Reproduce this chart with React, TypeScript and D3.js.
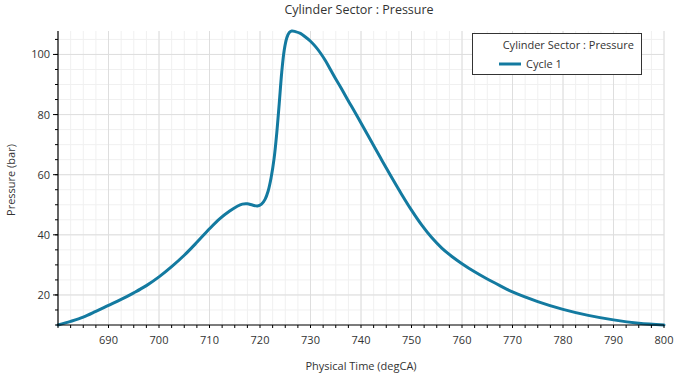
import React from "react";
import * as d3 from "d3";

const angles = [680, 682.5, 685, 687.5, 690, 692.5, 695, 697.5, 700, 702.5, 705, 707.5, 710, 712, 714, 715.5, 716.5, 717.5, 718.5, 719.5, 720.3, 721, 721.6, 722.2, 722.8, 723.3, 723.8, 724.3, 724.8, 725.3, 725.8, 726.3, 727, 728, 729, 730, 731, 732, 733, 734, 735, 736, 737, 738, 739, 740, 742, 744, 746, 748, 750, 752, 754, 756, 758, 760, 762.5, 765, 767.5, 770, 775, 780, 785, 790, 795, 800];
const pressure = [10, 11.2, 12.6, 14.5, 16.5, 18.5, 20.7, 23.1, 26, 29.4, 33.2, 37.5, 42, 45.3, 47.9, 49.5, 50.2, 50.3, 49.9, 49.6, 50.2, 51.8, 54.5, 59, 65.5, 73.5, 83.5, 94, 101.5, 105.5, 107.3, 107.8, 107.6, 107, 105.8, 104.4, 102.6, 100.4, 97.8, 94.8, 91.8, 89, 86, 83.1, 80.2, 77.2, 71.2, 65.2, 59.3, 53.6, 48.2, 43.3, 39.1, 35.6, 32.8, 30.4, 27.7, 25.3, 23.1, 21, 17.8, 15.2, 13.2, 11.7, 10.6, 10];
const xTicks = [690, 700, 710, 720, 730, 740, 750, 760, 770, 780, 790, 800];
const yTicks = [20, 40, 60, 80, 100];

const title = "Cylinder Sector : Pressure";
const seriesName = "Cycle 1";
const xLabel = "Physical Time (degCA)";
const yLabel = "Pressure (bar)";

export default function App() {
  const W = 678, H = 376;
  const left = 58, right = 664, top = 31, bottom = 325;
  const x = d3.scaleLinear().domain([680, 800]).range([left, right]);
  const y = d3.scaleLinear().domain([10, 107.8]).range([bottom, top]);
  const data = angles.map((a, i) => [a, pressure[i]] as [number, number]);
  const line = d3.line<[number, number]>().x(d => x(d[0])).y(d => y(d[1])).curve(d3.curveCatmullRom.alpha(0.5));
  const xMinor = d3.range(680, 800.01, 2.5);
  const yMinor = d3.range(10, 107.8, 5);
  const font = "'Open Sans', 'Noto Sans', sans-serif";
  const color = "#137aa0";
  return (
    <svg width={W} height={H} style={{ position: "absolute", left: 0, top: 0, background: "#fff" }} fontFamily={font}>
      <rect width={W} height={H} fill="#fff" />
      {xMinor.map(v => (
        <line key={"xm" + v} x1={x(v)} x2={x(v)} y1={top} y2={bottom} stroke="#f0f0f0" strokeWidth={1} />
      ))}
      {yMinor.map(v => (
        <line key={"ym" + v} x1={left} x2={right} y1={y(v)} y2={y(v)} stroke="#f0f0f0" strokeWidth={1} />
      ))}
      {xTicks.map(v => (
        <line key={"xg" + v} x1={x(v)} x2={x(v)} y1={top} y2={bottom} stroke="#dedede" strokeWidth={1} />
      ))}
      {yTicks.map(v => (
        <line key={"yg" + v} x1={left} x2={right} y1={y(v)} y2={y(v)} stroke="#dedede" strokeWidth={1} />
      ))}
      <path d={line(data) || ""} fill="none" stroke={color} strokeWidth={3} strokeLinejoin="round" strokeLinecap="round" />
      {/* axes */}
      <line x1={left} x2={left} y1={top} y2={bottom} stroke="#000" strokeWidth={1.2} />
      <line x1={left} x2={right} y1={bottom} y2={bottom} stroke="#000" strokeWidth={1.2} />
      {xMinor.map(v => (
        <line key={"xt" + v} x1={x(v)} x2={x(v)} y1={bottom} y2={bottom + 3} stroke="#000" />
      ))}
      {yMinor.map(v => (
        <line key={"yt" + v} x1={left - 3} x2={left} y1={y(v)} y2={y(v)} stroke="#000" />
      ))}
      {yTicks.map(v => (
        <line key={"ytm" + v} x1={left - 5} x2={left} y1={y(v)} y2={y(v)} stroke="#000" />
      ))}
      {xTicks.map(v => (
        <text key={"xl" + v} x={x(v)} y={bottom + 19} textAnchor="middle" fontSize={11} fill="#333">{v}</text>
      ))}
      {yTicks.map(v => (
        <text key={"yl" + v} x={left - 8} y={y(v) + 4} textAnchor="end" fontSize={11} fill="#333">{v}</text>
      ))}
      <text x={359} y={14} textAnchor="middle" fontSize={12.5} fill="#333">{title}</text>
      <text x={361} y={370} textAnchor="middle" fontSize={11} fill="#333">{xLabel}</text>
      <text transform={`translate(15,180) rotate(-90)`} textAnchor="middle" fontSize={11} fill="#333">{yLabel}</text>
      {/* legend */}
      <rect x={472.5} y={33.5} width={169} height={41} fill="#fff" stroke="#333" strokeWidth={1} />
      <text x={634} y={49} textAnchor="end" fontSize={11} fill="#333">{title}</text>
      <line x1={499} x2={521} y1={64} y2={64} stroke={color} strokeWidth={3} />
      <text x={526} y={68} fontSize={11} fill="#333">{seriesName}</text>
    </svg>
  );
}
